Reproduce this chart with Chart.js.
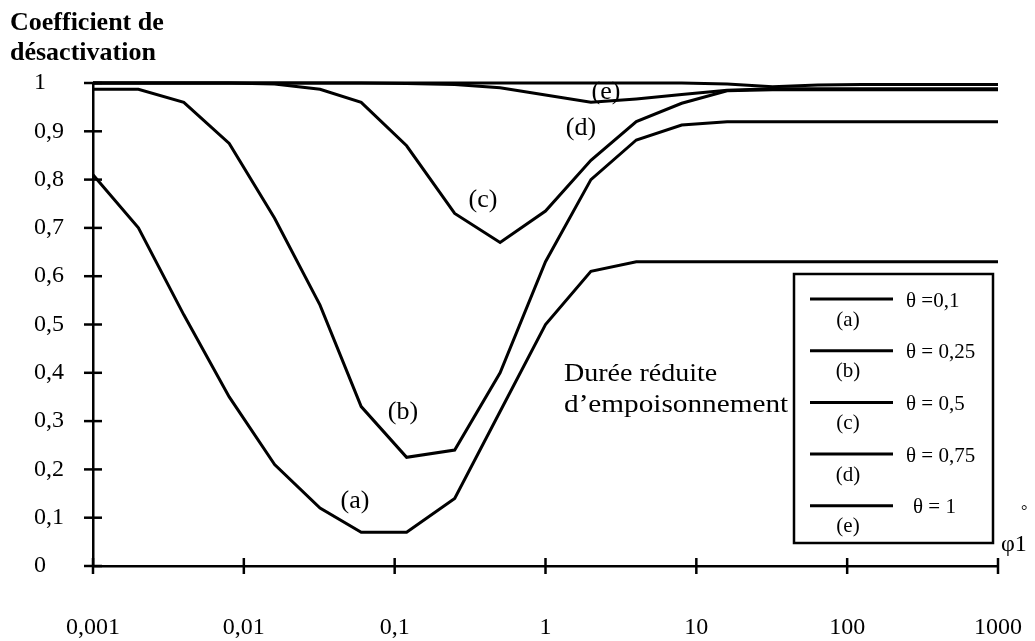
<!DOCTYPE html>
<html><head><meta charset="utf-8">
<style>html,body{margin:0;padding:0;background:#fff}#wrap{width:1035px;height:641px}</style>
<script src="https://cdn.jsdelivr.net/npm/chart.js@4.4.1/dist/chart.umd.min.js"></script>
</head><body><div id="wrap"><canvas id="c" width="1035" height="641"></canvas></div>
<script>
// reduced poisoning duration (x) and deactivation coefficient for each theta
const phi     = [0.001,0.002,0.004,0.008,0.016,0.032,0.06,0.12,0.25,0.5,1,2,4,8,16,32,64,125,250,500,1000];
const seriesA = [0.81,0.70,0.52,0.35,0.21,0.12,0.07,0.07,0.14,0.32,0.50,0.61,0.63,0.63,0.63,0.63,0.63,0.63,0.63,0.63,0.63];
const seriesB = [0.987,0.987,0.96,0.875,0.72,0.54,0.33,0.225,0.24,0.40,0.63,0.80,0.882,0.913,0.92,0.92,0.92,0.92,0.92,0.92,0.92];
const seriesC = [1,1,1,1,0.998,0.987,0.96,0.87,0.73,0.67,0.735,0.84,0.92,0.958,0.984,0.986,0.986,0.986,0.986,0.986,0.986];
const seriesD = [1,1,1,1,1,1,1,0.999,0.997,0.99,0.975,0.96,0.967,0.976,0.985,0.988,0.988,0.988,0.988,0.988,0.988];
const seriesE = [1,1,1,1,1,1,1,1,1,1,1,1,1,1,0.998,0.992,0.996,0.997,0.997,0.997,0.997];
const curveLabels = ['(a)','(b)','(c)','(d)','(e)'];
const thetaLabels = ['\u03b8 =0,1','\u03b8 = 0,25','\u03b8 = 0,5','\u03b8 = 0,75','\u03b8 = 1'];
const xTickValues = [0.001,0.01,0.1,1,10,100,1000];
const xTickLabels = ['0,001','0,01','0,1','1','10','100','1000'];
const yTickLabels = ['0','0,1','0,2','0,3','0,4','0,5','0,6','0,7','0,8','0,9','1'];
const titleLines = ['Coefficient de','d\u00e9sactivation'];
const noteLines = ['Dur\u00e9e r\u00e9duite','d\u2019empoisonnement'];

const FONT = "'Liberation Serif','Times New Roman',serif";
const allSeries = [seriesA, seriesB, seriesC, seriesD, seriesE];

function stretchText(ctx, s, x, y, sx) {
  ctx.save(); ctx.translate(x, y); ctx.scale(sx, 1); ctx.fillText(s, 0, 0); ctx.restore();
}

const decor = {
  id: 'decor',
  afterDraw(chart) {
    const ctx = chart.ctx, xs = chart.scales.x, ys = chart.scales.y;
    const ca = chart.chartArea;
    ctx.save();
    ctx.strokeStyle = '#000'; ctx.fillStyle = '#000'; ctx.lineWidth = 2.5;
    // cross ticks
    xTickValues.forEach(v => {
      const px = xs.getPixelForValue(v);
      ctx.beginPath(); ctx.moveTo(px, ca.bottom - 8); ctx.lineTo(px, ca.bottom + 8); ctx.stroke();
    });
    ys.ticks.forEach(t => {
      const py = ys.getPixelForValue(t.value);
      ctx.beginPath(); ctx.moveTo(ca.left - 9, py); ctx.lineTo(ca.left + 9, py); ctx.stroke();
    });
    // title
    ctx.font = 'bold 26px ' + FONT; ctx.textAlign = 'left'; ctx.textBaseline = 'alphabetic';
    ctx.fillText(titleLines[0], 10, 30);
    ctx.fillText(titleLines[1], 10, 60);
    // curve labels
    ctx.font = '26px ' + FONT; ctx.textAlign = 'center'; ctx.textBaseline = 'middle';
    const lp = [[355,501],[403,412],[483,200],[581,128],[606,92]];
    curveLabels.forEach((s, i) => ctx.fillText(s, lp[i][0], lp[i][1]));
    // note
    ctx.textAlign = 'left'; ctx.font = '25px ' + FONT;
    stretchText(ctx, noteLines[0], 564, 374, 1.12);
    stretchText(ctx, noteLines[1], 564, 405, 1.17);
    // phi axis name
    ctx.font = '24px ' + FONT;
    ctx.fillText('\u03c61', 1001, 545);
    ctx.font = '16px ' + FONT;
    ctx.fillText('\u00b0', 1021, 512);
    // legend box
    ctx.lineWidth = 2.5;
    ctx.strokeRect(794, 274, 199, 269);
    for (let i = 0; i < 5; i++) {
      const ly = 299 + i * 51.7;
      ctx.lineWidth = 3;
      ctx.beginPath(); ctx.moveTo(810, ly); ctx.lineTo(893, ly); ctx.stroke();
      ctx.font = '21px ' + FONT; ctx.textAlign = 'left';
      ctx.fillText(thetaLabels[i], i === 4 ? 913 : 906, ly + 2);
      ctx.textAlign = 'center';
      ctx.fillText(curveLabels[i], 848, ly + 21);
    }
    ctx.restore();
  }
};

new Chart(document.getElementById('c'), {
  type: 'line',
  data: {
    datasets: allSeries.map((s, k) => ({
      label: curveLabels[k] + ' ' + thetaLabels[k],
      data: phi.map((x, i) => ({x: x, y: s[i]})),
      borderColor: '#000', borderWidth: 3, pointRadius: 0, tension: 0, fill: false, clip: false
    }))
  },
  options: {
    responsive: false, animation: false, devicePixelRatio: 1,
    layout: {padding: {left: 34, right: 37, top: 83, bottom: 0}},
    plugins: {legend: {display: false}, tooltip: {enabled: false}, title: {display: false}},
    scales: {
      x: {
        type: 'logarithmic', min: 0.001, max: 1000,
        afterBuildTicks: s => { s.ticks = xTickValues.map(v => ({value: v})); },
        afterFit: s => { s.height = 75; },
        ticks: {callback: (v, i) => xTickLabels[i], color: '#000', font: {family: FONT, size: 24}, padding: 3, maxRotation: 0, autoSkip: false},
        grid: {display: false, drawTicks: true, tickLength: 44},
        border: {display: true, color: '#000', width: 2.5}
      },
      y: {
        min: 0, max: 1,
        afterFit: s => { s.width = 59; },
        ticks: {stepSize: 0.1, callback: (v, i) => yTickLabels[i], color: '#000', font: {family: FONT, size: 24}, crossAlign: 'far'},
        grid: {display: false, drawTicks: false},
        border: {display: true, color: '#000', width: 2.5}
      }
    }
  },
  plugins: [decor]
});
</script></body></html>
